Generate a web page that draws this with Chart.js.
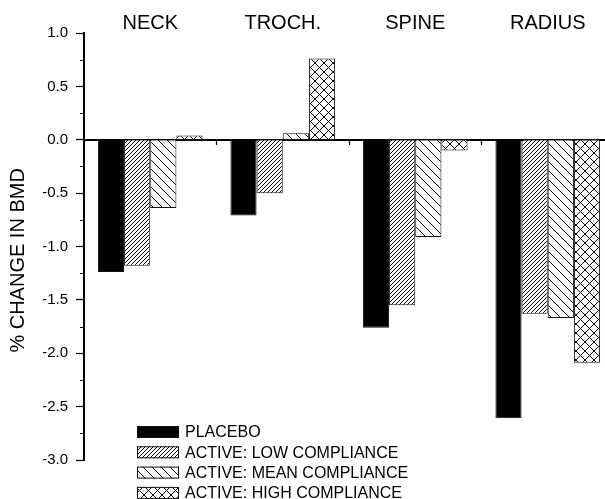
<!DOCTYPE html>
<html>
<head>
<meta charset="utf-8">
<script src="https://cdn.jsdelivr.net/npm/chart.js@4.4.0/dist/chart.umd.min.js"></script>
<style>
  html, body { margin: 0; padding: 0; background: #fff; overflow: hidden; }
  #wrap { width: 620px; height: 499px; }
</style>
</head>
<body>
<div id="wrap"><canvas id="bmd-chart" width="620" height="499"></canvas></div>
<script>
    const   categories      = ['NECK', 'TROCH.', 'SPINE', 'RADIUS'],
            seriesNames     = ['PLACEBO', 'ACTIVE: LOW COMPLIANCE', 'ACTIVE: MEAN COMPLIANCE', 'ACTIVE: HIGH COMPLIANCE'];

    const   placebo         = [-1.24, -0.71, -1.76, -2.61],
            lowCompliance   = [-1.18, -0.50, -1.55, -1.63],
            meanCompliance  = [-0.64,  0.06, -0.91, -1.67],
            highCompliance  = [ 0.04,  0.76, -0.10, -2.09];

    const   Y_MIN = -3, Y_MAX = 1, Y_STEP = 0.5;
    const   FONT = "'Liberation Sans', Arial, Helvetica, sans-serif";

    makePattern = (kind, size) => {
        var c = document.createElement('canvas');
        c.width = size; c.height = size;
        var ctx = c.getContext('2d');
        ctx.fillStyle = '#fff';
        ctx.fillRect(0, 0, size, size);
        ctx.strokeStyle = '#000';
        ctx.lineWidth = 1;
        ctx.beginPath();
        if (kind === 'fwd' || kind === 'cross') {
            for (var k = 0; k <= 2; k++) {
                ctx.moveTo(0, k * size);
                ctx.lineTo(size, k * size - size);
            }
        }
        if (kind === 'back' || kind === 'cross') {
            for (var k = -1; k <= 1; k++) {
                ctx.moveTo(0, k * size);
                ctx.lineTo(size, k * size + size);
            }
        }
        ctx.stroke();
        return document.createElement('canvas').getContext('2d').createPattern(c, 'repeat');
    }

    var fills = ['#000', makePattern('fwd', 4), makePattern('back', 9), makePattern('cross', 9)];
    var series = [placebo, lowCompliance, meanCompliance, highCompliance];

    var datasets = series.map(function(values, i) {
        return {
            label: seriesNames[i],
            data: values,
            backgroundColor: fills[i],
            borderColor: '#111',
            borderWidth: 1,
            categoryPercentage: 0.79,
            barPercentage: 1.0
        };
    });

    // small ticks between the labelled ones on the y axis
    var minorTicks = {
        id: 'minorTicks',
        afterDraw(chart) {
            var y = chart.scales.y, ctx = chart.ctx;
            ctx.save();
            ctx.strokeStyle = '#000';
            ctx.lineWidth = 1.2;
            ctx.beginPath();
            for (var v = Y_MIN + Y_STEP / 2; v < Y_MAX; v += Y_STEP) {
                var py = Math.round(y.getPixelForValue(v)) + 0.5;
                ctx.moveTo(y.right - 4, py);
                ctx.lineTo(y.right, py);
            }
            ctx.stroke();
            ctx.restore();
        }
    };

    // legend drawn inside the plot, lower left
    var innerLegend = {
        id: 'innerLegend',
        afterDraw(chart) {
            var ctx = chart.ctx, area = chart.chartArea;
            var x0 = area.left + 53, y0 = area.bottom - 28, rowH = 20.3;
            ctx.save();
            ctx.font = '16px ' + FONT;
            ctx.textBaseline = 'middle';
            chart.data.datasets.forEach(function(ds, i) {
                var cy = y0 + i * rowH;
                ctx.fillStyle = ds.backgroundColor;
                ctx.fillRect(x0, cy - 6, 42, 12);
                ctx.strokeStyle = '#111';
                ctx.lineWidth = 1;
                ctx.strokeRect(x0 + 0.5, cy - 5.5, 41, 11);
                ctx.fillStyle = '#000';
                ctx.fillText(ds.label, x0 + 48, cy + 1);
            });
            ctx.restore();
        }
    };

    drawBmdChart = () => {
        new Chart(document.getElementById('bmd-chart'), {
            type: 'bar',
            data: { labels: categories, datasets: datasets },
            plugins: [minorTicks, innerLegend],
            options: {
                responsive: false,
                animation: false,
                layout: { padding: { left: 0, top: 0, right: 6, bottom: 39 } },
                plugins: { legend: { display: false }, tooltip: { enabled: false } },
                scales: {
                    x: {
                        position: 'top',
                        grid: { display: false, drawTicks: false },
                        border: { display: false },
                        ticks: { font: { family: FONT, size: 20 }, color: '#000', padding: -2, maxRotation: 0 },
                        afterFit: (scale) => { scale.height = 33; }
                    },
                    x2: {
                        type: 'category',
                        position: { y: 0 },
                        offset: true,
                        grid: { offset: true, drawOnChartArea: false, tickLength: 4, color: '#000', tickWidth: 1.2 },
                        border: { display: true, color: '#000', width: 2 },
                        ticks: { display: false }
                    },
                    y: {
                        min: Y_MIN,
                        max: Y_MAX,
                        grid: { drawOnChartArea: false, tickLength: 8, color: '#000', tickWidth: 1.2 },
                        border: { color: '#000', width: 2 },
                        ticks: {
                            stepSize: Y_STEP,
                            padding: 8,
                            color: '#000',
                            font: { family: FONT, size: 15 },
                            callback: (v) => Number(v).toFixed(1)
                        },
                        title: {
                            display: true,
                            // trailing spaces push the visible words a little down the axis, as in the source
                            text: '% CHANGE IN BMD     ',
                            color: '#000',
                            font: { family: FONT, size: 20 },
                            padding: { top: 6, bottom: 0 }
                        },
                        afterFit: (scale) => { scale.width = 84; }
                    }
                }
            }
        });
    }

    drawBmdChart();
</script>
</body>
</html>
